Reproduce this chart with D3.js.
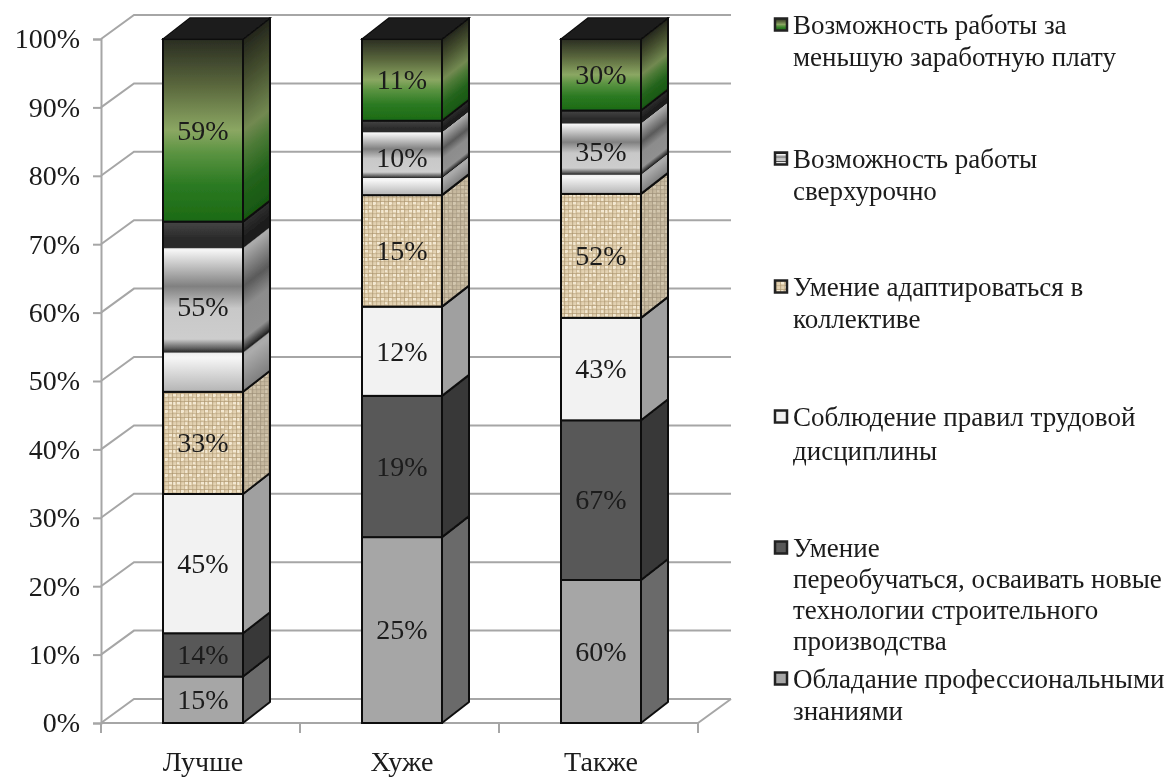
<!DOCTYPE html>
<html lang="ru"><head><meta charset="utf-8">
<style>html,body{margin:0;padding:0;background:#fff}svg{display:block}text{font-family:"Liberation Serif",serif;fill:#1a1a1a}</style>
<script src="https://cdn.jsdelivr.net/npm/d3@7"></script></head><body>
<svg id="c" width="1173" height="778"></svg>
<script>
const categories = ["Лучше", "Хуже", "Также"];
const knowledge  = [15, 25, 60];
const retraining = [14, 19, 67];
const discipline = [45, 12, 43];
const adapting   = [33, 15, 52];
const overtime   = [55, 10, 35];
const lowerPay   = [59, 11, 30];
const tickLabels = ["0%","10%","20%","30%","40%","50%","60%","70%","80%","90%","100%"];
const seriesNames = ["knowledge","retraining","discipline","adapting","overtime","lowerPay"];
const seriesValues = {knowledge,retraining,discipline,adapting,overtime,lowerPay};
const legendItems = [
  {key:"lowerPay", lines:["Возможность работы за","меньшую заработную плату"]},
  {key:"overtime", lines:["Возможность работы","сверхурочно"]},
  {key:"adapting", lines:["Умение адаптироваться в","коллективе"]},
  {key:"discipline", lines:["Соблюдение правил трудовой","дисциплины"]},
  {key:"retraining", lines:["Умение","переобучаться, осваивать новые","технологии строительного","производства"]},
  {key:"knowledge", lines:["Обладание профессиональными","знаниями"]}
];
const legendY = {lowerPay:26, overtime:160, adapting:288, discipline:418, retraining:549, knowledge:680};

const rows = categories.map((c,i)=>{const r={cat:c};seriesNames.forEach(s=>r[s]=seriesValues[s][i]);return r;});
const stacked = d3.stack().keys(seriesNames).offset(d3.stackOffsetExpand)(rows);

const gdx=33, gdy=24, dx=27, dy=21, barShift=2.5;
const x=d3.scaleBand().domain(categories).range([101,698]).paddingInner(0.598).paddingOuter(0.299);
const y=d3.scaleLinear().domain([0,1]).range([723,39]);
const svg=d3.select("#c");
const defs=svg.append("defs");

const grads={
  overtime:[[0,"#b4b4b4"],[.2,"#f6f6f6"],[.225,"#f0f0f0"],[.235,"#2c2c2c"],[.255,"#5c5c5c"],[.31,"#cdcdcd"],[.49,"#c8c8c8"],[.62,"#808080"],[.83,"#f4f4f4"],[.84,"#f4f4f4"],[.848,"#2a2a2a"],[.9,"#2a2a2a"],[1,"#454545"]],
  lowerPay:[[0,"#1c6a14"],[.2,"#2b7a22"],[.38,"#5c9442"],[.5,"#8ba763"],[.75,"#59663c"],[1,"#2a2d22"]]
};
const sideDark={overtime:1,lowerPay:.55};
const flat={knowledge:"#a6a6a6",retraining:"#595959",discipline:"#f2f2f2"};
const flatSide={knowledge:"#6a6a6a",retraining:"#383838",discipline:"#a0a0a0"};

function burlap(id,base,light,dark,size){
  const s=size, c=4;
  const p=defs.append("pattern").attr("id",id).attr("patternUnits","userSpaceOnUse").attr("width",s).attr("height",s);
  p.append("rect").attr("width",s).attr("height",s).attr("fill",base);
  d3.range(0,s,c).forEach((a,i)=>{
    p.append("rect").attr("x",a).attr("y",0).attr("width",1.2).attr("height",s).attr("fill",dark).attr("opacity",i%2?.55:.35);
    p.append("rect").attr("x",0).attr("y",a+1).attr("width",s).attr("height",1.2).attr("fill",dark).attr("opacity",i%2?.35:.55);
    p.append("rect").attr("x",a+1).attr("y",(a*2+2)%s).attr("width",3).attr("height",2).attr("fill",light);
    p.append("rect").attr("x",(a+9)%s).attr("y",(a*3+6)%s).attr("width",2).attr("height",3).attr("fill",light);
  });
}
burlap("tex","#e3d2b2","#f3e8d2","#a58e68",16);
burlap("texSide","#c6b89e","#d2c6ae","#988b74",16);

function gradient(id,stops,x1,y0,y1,skew,dark){
  const g=defs.append("linearGradient").attr("id",id).attr("gradientUnits","userSpaceOnUse")
    .attr("x1",0).attr("x2",0).attr("y1",y0).attr("y2",y1);
  if(skew) g.attr("gradientTransform",`translate(${x1},0) skewY(${-Math.atan(dy/dx)*180/Math.PI}) translate(${-x1},0)`);
  stops.forEach(s=>g.append("stop").attr("offset",s[0]).attr("stop-color",dark?d3.color(s[1]).darker(dark).formatHex():s[1]));
}

const f=defs.append("filter").attr("id","soft").attr("x","-5%").attr("y","-5%").attr("width","110%").attr("height","110%");
f.append("feGaussianBlur").attr("stdDeviation",.45);
const root=svg.append("g").attr("filter","url(#soft)");

const ticks=d3.range(0,11).map(d=>d/10);
const gridCol="#a6a6a6";
const grid=root.append("g").attr("fill","none").attr("stroke",gridCol).attr("stroke-width",2);
grid.selectAll("path").data(ticks).join("path")
  .attr("d",t=>`M${x.range()[0]},${y(t)}L${x.range()[0]+gdx},${y(t)-gdy}L${x.range()[1]+gdx},${y(t)-gdy}`);
grid.append("path").attr("d",`M${x.range()[1]},${y(0)}L${x.range()[1]+gdx},${y(0)-gdy}`);

const yAxis=d3.axisLeft(y).tickValues(ticks).tickFormat((d,i)=>tickLabels[i]).tickSize(8).tickPadding(13);
const yG=root.append("g").attr("transform",`translate(${x.range()[0]},0)`).call(yAxis);
const xAxis=d3.axisBottom(x).tickSize(0).tickPadding(28);
const xG=root.append("g").attr("transform",`translate(0,${y(0)})`).call(xAxis);
[yG,xG].forEach(g=>{g.selectAll("path,line").attr("stroke",gridCol).attr("stroke-width",2);g.selectAll("text").attr("font-size",28).attr("font-family",null).attr("fill","#1a1a1a");});
xG.selectAll("text").attr("dx",barShift);
xG.select(".domain").attr("d",`M${x.range()[0]},0H${x.range()[1]}`);
const step=x.step();
xG.selectAll("line.sep").data(d3.range(0,4)).join("line").attr("class","sep")
  .attr("x1",i=>x.range()[0]+i*step).attr("x2",i=>x.range()[0]+i*step).attr("y1",0).attr("y2",10)
  .attr("stroke",gridCol).attr("stroke-width",2);

const bw=x.bandwidth();
const bars=root.append("g");
stacked.forEach(layer=>{
  const key=layer.key;
  const g=bars.append("g");
  layer.forEach((d,i)=>{
    const cat=d.data.cat, x0=x(cat)+barShift, x1=x0+bw, yb=y(d[0]), yt=y(d[1]);
    let front,side;
    if(grads[key]){
      gradient(`f-${key}-${i}`,grads[key],x1,yb,yt,false,0);
      gradient(`s-${key}-${i}`,grads[key],x1,yb,yt,true,sideDark[key]);
      front=`url(#f-${key}-${i})`; side=`url(#s-${key}-${i})`;
    } else if(key==="adapting"){front="url(#tex)";side="url(#texSide)";}
    else {front=flat[key];side=flatSide[key];}
    g.append("path").attr("d",`M${x1},${yb}L${x1+dx},${yb-dy}L${x1+dx},${yt-dy}L${x1},${yt}Z`)
      .attr("fill",side).attr("stroke","#111").attr("stroke-width",2).attr("stroke-linejoin","round");
    g.append("rect").attr("x",x0).attr("y",yt).attr("width",bw).attr("height",yb-yt)
      .attr("fill",front).attr("stroke","#111").attr("stroke-width",2);
    if(key==="lowerPay")
      g.append("path").attr("d",`M${x0},${yt}L${x0+dx},${yt-dy}L${x1+dx},${yt-dy}L${x1},${yt}Z`)
        .attr("fill","#1d1d1d").attr("stroke","#111").attr("stroke-width",1.5);
  });
});

stacked.forEach(layer=>{
  root.append("g").selectAll("text").data(layer).join("text")
    .attr("x",d=>x(d.data.cat)+barShift+bw/2).attr("y",d=>(y(d[0])+y(d[1]))/2)
    .attr("dy","0.33em").attr("text-anchor","middle").attr("font-size",28)
    .text(d=>d.data[layer.key]+"%");
});

const lg=root.append("g");
const lh={lowerPay:32,overtime:32,adapting:32,discipline:34,retraining:31,knowledge:32};
legendItems.forEach(it=>{
  const ly=legendY[it.key];
  let fill=flat[it.key];
  if(grads[it.key]){
    const g=defs.append("linearGradient").attr("id",`lg-${it.key}`).attr("x1",0).attr("x2",0).attr("y1",1).attr("y2",0);
    grads[it.key].forEach(s=>g.append("stop").attr("offset",s[0]).attr("stop-color",s[1]));
    fill=`url(#lg-${it.key})`;
  } else if(it.key==="adapting") fill="url(#tex)";
  lg.append("rect").attr("x",775).attr("y",ly-7.5).attr("width",12).attr("height",12).attr("fill",fill).attr("stroke","#222").attr("stroke-width",2.5);
  it.lines.forEach((t,j)=>{
    lg.append("text").attr("x",793).attr("y",ly+j*lh[it.key]).attr("dy","0.3em").attr("font-size",27).text(t);
  });
});
</script></body></html>
